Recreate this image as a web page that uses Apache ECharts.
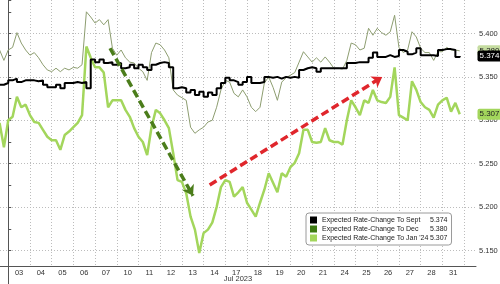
<!DOCTYPE html>
<html><head><meta charset="utf-8">
<script src="https://cdn.jsdelivr.net/npm/echarts@6/dist/echarts.min.js"></script>
<style>html,body{margin:0;padding:0;background:#fff}#c{width:500px;height:284px}</style>
</head><body><div id="c"></div>
<script>
// x tick labels: trading days of July 2023
const dayLabels = ['03','04','05','06','07','10','11','12','13','14','17','18','19','20','21','24','25','26','27','28','31'];
const monthLabel = 'Jul 2023';
const seriesNames = ['Expected Rate-Change To Sept', 'Expected Rate-Change To Dec', "Expected Rate-Change To Jan '24"];
const lastValues = [5.374, 5.380, 5.307];
// sample times, in trading days from the Jul 3 open
const sampleStart = -0.4;
const sampleStep = 0.2;
const sept = [5.341,5.343,5.346,5.348,5.344,5.346,5.346,5.346,5.345,5.346,
5.341,5.338,5.338,5.341,5.337,5.343,5.343,5.344,5.343,5.344,
5.337,5.370,5.367,5.370,5.366,5.367,5.364,5.366,5.360,5.361,
5.364,5.360,5.364,5.361,5.358,5.364,5.366,5.367,5.366,5.361,
5.337,5.338,5.337,5.332,5.335,5.329,5.333,5.327,5.332,5.329,
5.337,5.343,5.349,5.346,5.344,5.341,5.344,5.350,5.343,5.343,
5.344,5.350,5.349,5.350,5.348,5.350,5.349,5.350,5.349,5.358,
5.360,5.361,5.360,5.356,5.360,5.360,5.360,5.360,5.360,5.360,
5.366,5.366,5.367,5.367,5.367,5.372,5.378,5.373,5.373,5.375,
5.373,5.374,5.381,5.379,5.376,5.378,5.383,5.375,5.375,5.375,
5.374,5.381,5.382,5.382,5.381,5.373,5.374];
const dec = [5.381,5.369,5.381,5.384,5.401,5.389,5.381,5.375,5.378,5.372,
5.364,5.358,5.356,5.360,5.356,5.360,5.358,5.361,5.360,5.364,
5.425,5.419,5.412,5.416,5.410,5.416,5.383,5.375,5.381,5.372,
5.367,5.366,5.360,5.356,5.346,5.378,5.389,5.387,5.381,5.372,
5.335,5.329,5.326,5.323,5.292,5.285,5.289,5.292,5.298,5.300,
5.315,5.335,5.346,5.344,5.331,5.327,5.335,5.327,5.315,5.310,
5.315,5.343,5.350,5.338,5.323,5.344,5.349,5.352,5.355,5.367,
5.379,5.373,5.367,5.372,5.367,5.373,5.367,5.360,5.360,5.359,
5.369,5.389,5.387,5.381,5.383,5.406,5.398,5.406,5.401,5.398,
5.402,5.421,5.384,5.378,5.381,5.402,5.396,5.383,5.378,5.378,
5.369,5.379,5.379,5.384,5.381,5.381,5.380];
const jan24 = [5.297,5.269,5.300,5.304,5.327,5.315,5.318,5.306,5.298,5.297,
5.289,5.281,5.277,5.277,5.266,5.283,5.287,5.292,5.297,5.306,
5.385,5.372,5.361,5.361,5.355,5.315,5.323,5.323,5.323,5.312,
5.304,5.291,5.281,5.275,5.260,5.292,5.312,5.308,5.300,5.291,
5.262,5.231,5.229,5.216,5.189,5.174,5.147,5.170,5.174,5.182,
5.200,5.223,5.231,5.229,5.212,5.217,5.223,5.205,5.197,5.189,
5.205,5.220,5.239,5.228,5.217,5.239,5.235,5.246,5.251,5.262,
5.289,5.289,5.275,5.274,5.275,5.291,5.277,5.275,5.275,5.272,
5.300,5.323,5.315,5.306,5.323,5.320,5.335,5.323,5.321,5.320,
5.327,5.361,5.306,5.303,5.300,5.345,5.335,5.321,5.315,5.312,
5.303,5.318,5.323,5.326,5.310,5.320,5.307];
// annotation arrows: [start, end] in (trading day, rate)
const greenArrow = [[4.69, 5.383], [8.51, 5.213]];
const redArrow = [[9.28, 5.2255], [17.23, 5.350]];
const xMin = -0.38, xMax = 21.55, yMin = 5.1321, yMax = 5.4386;

const colors = ['#000000', '#8d9d70', '#a3d65c'];
const legendColors = ['#000000', '#3d7a12', '#a3d65c'];
const endLabelBg = ['#000000', '#c5dca0', '#a3d65c'];
const endLabelFg = ['#ffffff', '#222222', '#222222'];

function pairs(vals) { return vals.map((v, i) => [sampleStart + i * sampleStep, v]); }
function endMark(k) {
  return {
    symbol: 'rect', symbolSize: [1, 1], itemStyle: { color: 'rgba(0,0,0,0)' },
    label: { show: true, position: 'right', distance: 1, formatter: lastValues[k].toFixed(3),
      backgroundColor: endLabelBg[k], color: endLabelFg[k], fontSize: 8, fontFamily: 'Liberation Sans',
      padding: [2, 2, 1, 2], borderRadius: 2 },
    data: [{ coord: [xMax, lastValues[k]] }]
  };
}
const grayDots = { type: [1, 2], color: '#bcbcbc', width: 1 };
const chart = echarts.init(document.getElementById('c'), null, { renderer: 'canvas' });
chart.setOption({
  animation: false,
  backgroundColor: '#ffffff',
  textStyle: { fontFamily: 'Liberation Sans' },
  grid: { left: 0, right: 24, top: 0, bottom: 18, containLabel: false, outerBoundsMode: 'none' },
  xAxis: [
    { type: 'value', min: xMin, max: xMax, minInterval: 1, maxInterval: 1,
      axisLine: { show: true, lineStyle: { color: '#555' } }, axisTick: { show: false },
      axisLabel: { show: false },
      splitLine: { show: true, showMinLine: false, showMaxLine: false, lineStyle: grayDots } },
    { type: 'value', min: xMin, max: xMax, minInterval: 0.5, maxInterval: 0.5, position: 'bottom',
      axisLine: { show: false }, axisTick: { show: false }, splitLine: { show: false },
      name: monthLabel, nameLocation: 'middle', nameGap: 9, nameMoveOverlap: false,
      nameTextStyle: { fontSize: 7.5, color: '#333', fontFamily: 'Liberation Sans', verticalAlign: 'top' },
      axisLabel: { fontSize: 7.5, color: '#333', margin: 3, fontFamily: 'Liberation Sans',
        formatter: function (v) { const k = Math.round(v - 0.5); return (Math.abs(v - 0.5 - k) < 0.01 && dayLabels[k]) ? dayLabels[k] : ''; } } }
  ],
  yAxis: { type: 'value', position: 'right', min: yMin, max: yMax, minInterval: 0.05, maxInterval: 0.05,
    axisLine: { show: true, lineStyle: { color: '#555' } },
    axisTick: { show: true, length: 3, lineStyle: { color: '#555' } },
    minorTick: { show: true, splitNumber: 2, length: 3, lineStyle: { color: '#555' } },
    splitLine: { show: true, showMinLine: false, showMaxLine: false, lineStyle: grayDots },
    axisLabel: { fontSize: 7.5, color: '#333', margin: 3, fontFamily: 'Liberation Sans',
      formatter: function (v) { return Math.abs(v * 20 - Math.round(v * 20)) < 1e-6 ? v.toFixed(3) : ''; } } },
  legend: {
    orient: 'vertical', left: 306, top: 213, itemWidth: 7, itemHeight: 7, itemGap: 1,
    padding: [3, 4, 3, 4], backgroundColor: '#fff', borderColor: '#9a9a9a', borderWidth: 1, borderRadius: 3,
    icon: 'rect',
    data: seriesNames.map((n, k) => ({ name: n, itemStyle: { color: legendColors[k] } })),
    textStyle: { fontSize: 7, color: '#222', fontFamily: 'Liberation Sans', lineHeight: 8,
      rich: { n: { width: 108, fontSize: 7, lineHeight: 8, fontFamily: 'Liberation Sans' },
              v: { fontSize: 7, lineHeight: 8, fontFamily: 'Liberation Sans' } } },
    formatter: function (name) { const k = seriesNames.indexOf(name); return '{n|' + name + '}{v|' + lastValues[k].toFixed(3) + '}'; }
  },
  series: [
    { name: seriesNames[2], type: 'line', data: pairs(jan24), showSymbol: false, symbol: 'none', z: 2,
      lineStyle: { color: colors[2], width: 2.5 }, itemStyle: { color: colors[2] }, markPoint: endMark(2) },
    { name: seriesNames[1], type: 'line', data: pairs(dec), showSymbol: false, symbol: 'none', z: 3,
      lineStyle: { color: colors[1], width: 1 }, itemStyle: { color: colors[1] }, markPoint: endMark(1) },
    { name: seriesNames[0], type: 'line', data: pairs(sept), step: 'end', showSymbol: false, symbol: 'none', z: 4,
      lineStyle: { color: colors[0], width: 2 }, itemStyle: { color: colors[0] }, markPoint: endMark(0) },
    { name: 'arrows', type: 'line', data: [], z: 5, silent: true,
      markLine: { silent: true, symbol: ['none', 'arrow'], symbolSize: 10, label: { show: false },
        data: [
          [{ coord: greenArrow[0], lineStyle: { color: '#4b7d1b', width: 3.5, type: [8, 4] }, itemStyle: { color: '#4b7d1b' } }, { coord: greenArrow[1] }],
          [{ coord: redArrow[0], lineStyle: { color: '#e0262c', width: 3.5, type: [8, 4] }, itemStyle: { color: '#e0262c' } }, { coord: redArrow[1] }]
        ] } }
  ],
  graphic: [
    { type: 'line', shape: { x1: 8.5, y1: 266, x2: 8.5, y2: 284 }, style: { stroke: '#555', lineWidth: 1 }, silent: true }
  ]
});
</script></body></html>
